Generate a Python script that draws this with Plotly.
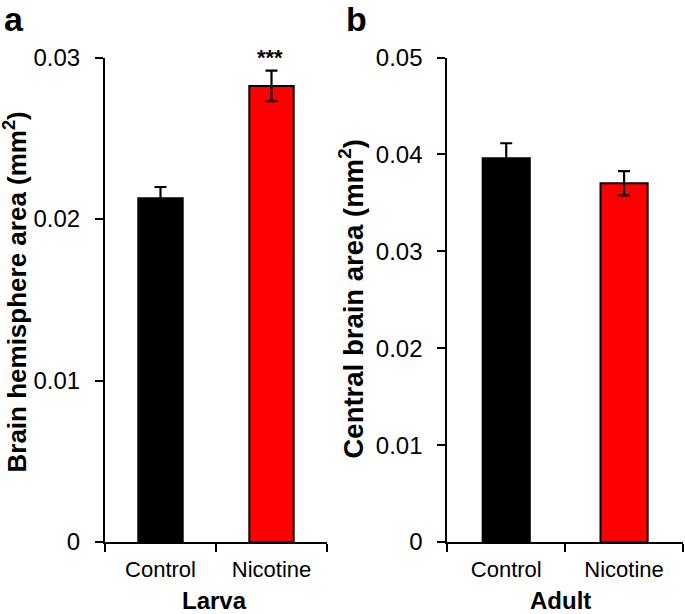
import plotly.graph_objects as go

categories = ["Control", "Nicotine"]
larva_values = [0.02128, 0.02824]
larva_errors = [0.0007, 0.00095]
adult_values = [0.0396, 0.03702]
adult_errors = [0.00155, 0.00125]
bar_colors = ["#000000", "#ff0000"]
larva_ticks = [0, 0.01, 0.02, 0.03]
larva_ticktext = ["0", "0.01", "0.02", "0.03"]
adult_ticks = [0, 0.01, 0.02, 0.03, 0.04, 0.05]
adult_ticktext = ["0", "0.01", "0.02", "0.03", "0.04", "0.05"]

W, H = 685, 614
FONT = "Liberation Sans, Arial, Helvetica, sans-serif"

fig = go.Figure()
fig.add_trace(go.Bar(
    x=categories, y=larva_values, width=0.4,
    marker=dict(color=bar_colors, line=dict(color="black", width=2)),
    error_y=dict(type="data", array=larva_errors, color="black", thickness=2.2, width=6),
    xaxis="x", yaxis="y", showlegend=False,
))
fig.add_trace(go.Bar(
    x=categories, y=adult_values, width=0.4,
    marker=dict(color=bar_colors, line=dict(color="black", width=2)),
    error_y=dict(type="data", array=adult_errors, color="black", thickness=2.2, width=6),
    xaxis="x2", yaxis="y2", showlegend=False,
))

ydom = [1 - 542 / H, 1 - 57.5 / H]
xcommon = dict(type="category", range=[-0.5, 1.5], showline=True, linecolor="black",
               linewidth=2, ticks="outside", tickson="boundaries", ticklen=8,
               tickwidth=2, tickcolor="black", showgrid=False, zeroline=False,
               tickfont=dict(family=FONT, size=22, color="black"), automargin=False,
               ticklabelstandoff=7, fixedrange=True)
ycommon = dict(showline=True, linecolor="black", linewidth=2, ticks="outside",
               ticklen=8, tickwidth=2, tickcolor="black", showgrid=False,
               zeroline=False, tickfont=dict(family=FONT, size=24, color="black"),
               automargin=False, ticklabelstandoff=10)

fig.update_layout(
    width=W, height=H,
    margin=dict(l=0, r=0, t=0, b=0),
    plot_bgcolor="white", paper_bgcolor="white",
    bargap=0.6,
    xaxis=dict(domain=[105 / W, 327 / W], anchor="y", **xcommon),
    yaxis=dict(domain=ydom, anchor="x", range=[0, 0.03], tickvals=larva_ticks,
               ticktext=larva_ticktext, **ycommon),
    xaxis2=dict(domain=[447.3 / W, 683 / W], anchor="y2", **xcommon),
    yaxis2=dict(domain=ydom, anchor="x2", range=[0, 0.05], tickvals=adult_ticks,
                ticktext=adult_ticktext, **ycommon),
)

def ann(text, x, y, size, bold=True, angle=0):
    fig.add_annotation(
        text=f"<b>{text}</b>" if bold else text,
        x=x / W, y=1 - y / H, xref="paper", yref="paper",
        xanchor="center", yanchor="middle", showarrow=False, textangle=angle,
        font=dict(family=FONT, size=size, color="black"),
    )

ann("a", 14, 19, 34)
ann("b", 356, 19, 34)
ann("Brain hemisphere area (mm<sup>2</sup>)", 16, 292.5, 26, angle=-90)
ann("Central brain area (mm<sup>2</sup>)", 352, 299.5, 27.5, angle=-90)
ann("Larva", 214, 600, 24)
ann("Adult", 560, 600, 24)
ann("***", 270, 57, 22)

fig.write_html("out.html", config={"displayModeBar": False},
               post_script="document.body.style.margin='0';document.body.style.overflow='hidden';")
